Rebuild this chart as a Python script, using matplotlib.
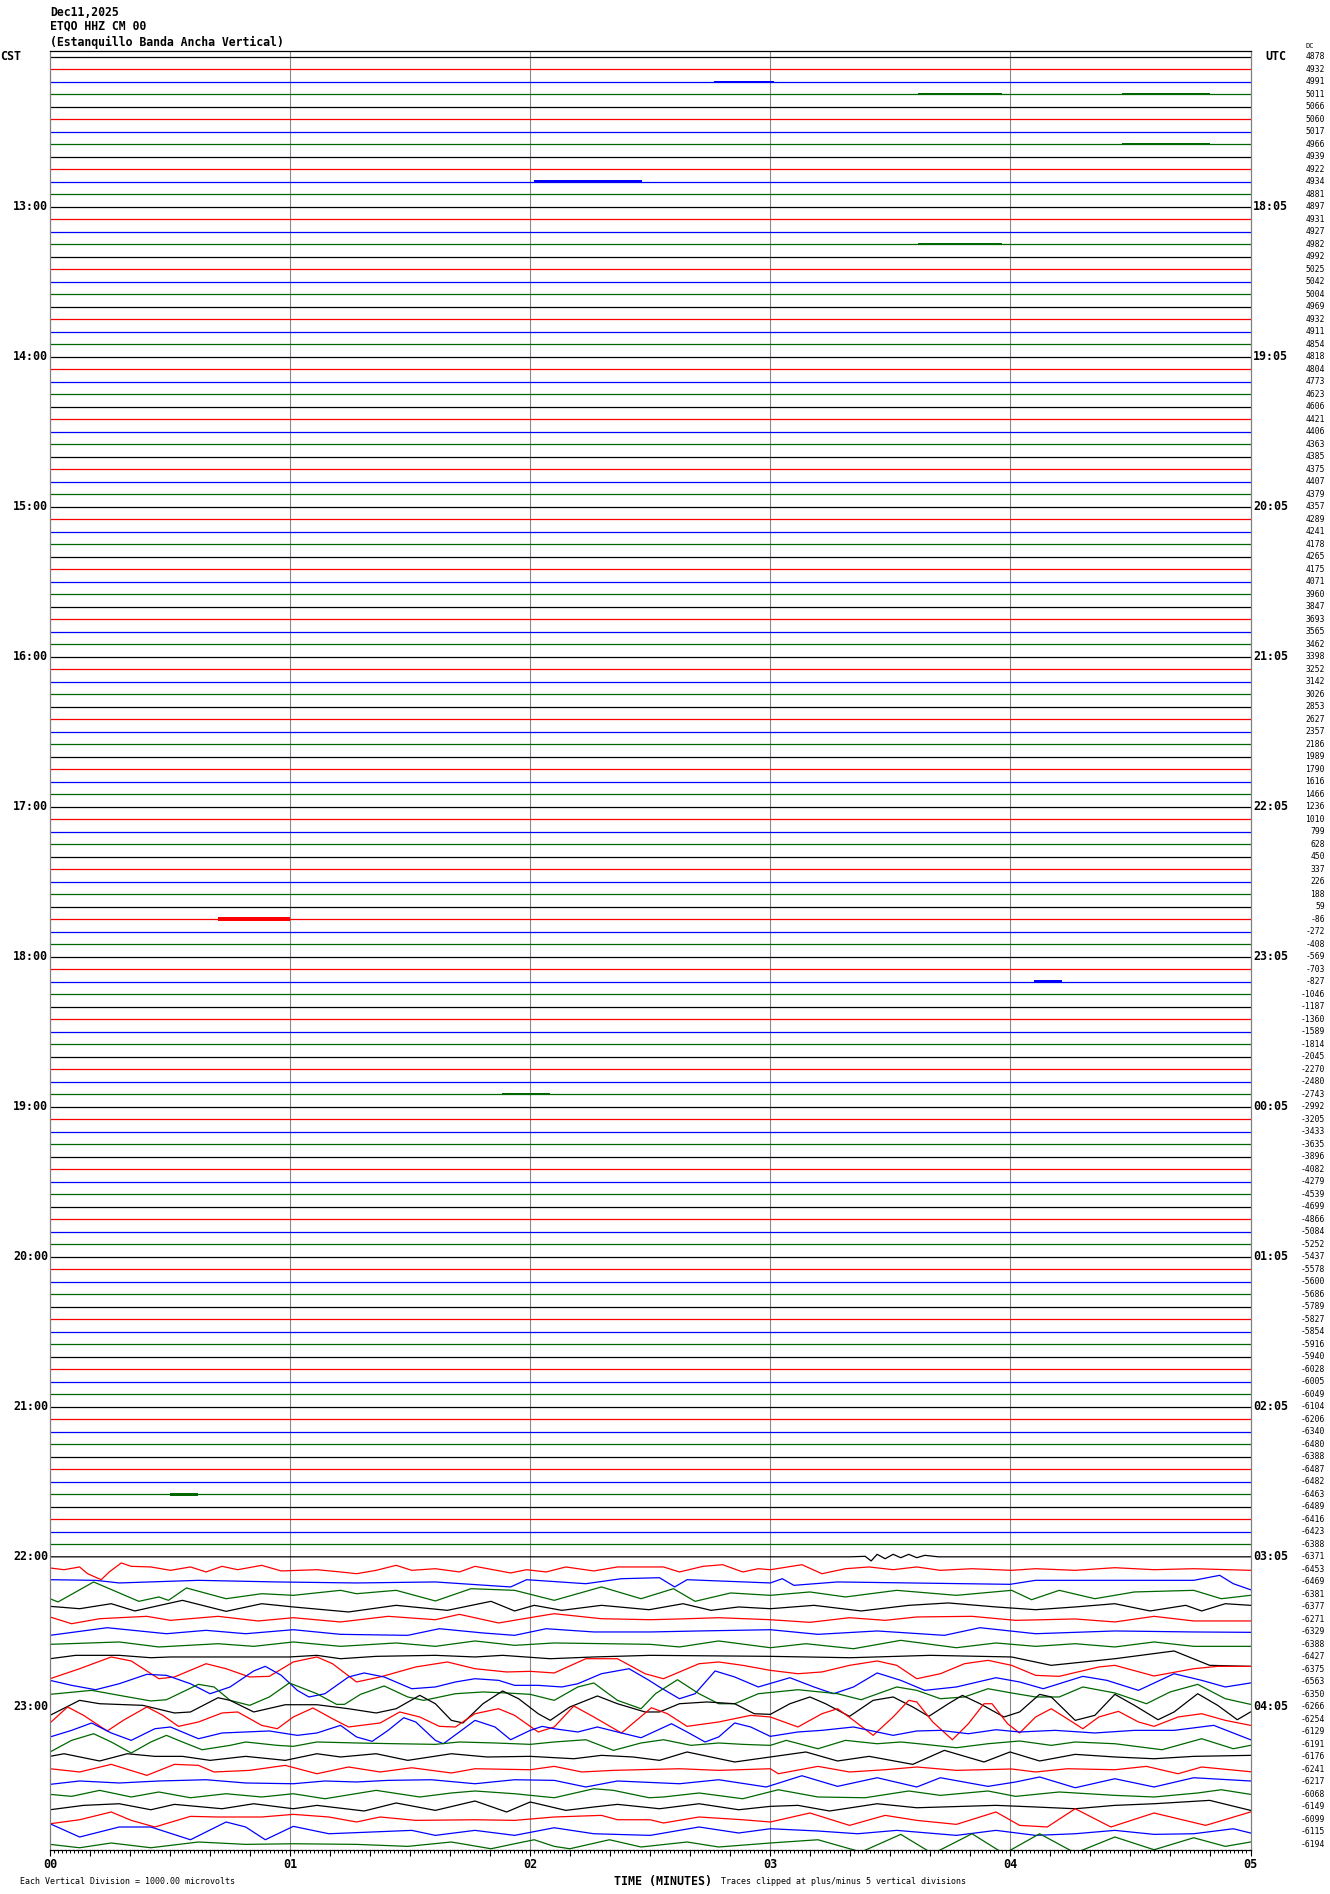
import numpy as np
import matplotlib.pyplot as plt
from matplotlib.ticker import MultipleLocator, FixedLocator
from matplotlib.transforms import blended_transform_factory

# valor medio (DC) de cada linea de 5 minutos, de 12:00 a 23:55 CST
dc_values = [4878, 4932, 4991, 5011, 5066, 5060, 5017, 4966, 4939, 4922, 4934, 4881,
             4897, 4931, 4927, 4982, 4992, 5025, 5042, 5004, 4969, 4932, 4911, 4854,
             4818, 4804, 4773, 4623, 4606, 4421, 4406, 4363, 4385, 4375, 4407, 4379,
             4357, 4289, 4241, 4178, 4265, 4175, 4071, 3960, 3847, 3693, 3565, 3462,
             3398, 3252, 3142, 3026, 2853, 2627, 2357, 2186, 1989, 1790, 1616, 1466,
             1236, 1010, 799, 628, 450, 337, 226, 188, 59, -86, -272, -408,
             -569, -703, -827, -1046, -1187, -1360, -1589, -1814, -2045, -2270, -2480, -2743,
             -2992, -3205, -3433, -3635, -3896, -4082, -4279, -4539, -4699, -4866, -5084, -5252,
             -5437, -5578, -5600, -5686, -5789, -5827, -5854, -5916, -5940, -6028, -6005, -6049,
             -6104, -6206, -6340, -6480, -6388, -6487, -6482, -6463, -6489, -6416, -6423, -6388,
             -6371, -6453, -6469, -6381, -6377, -6271, -6329, -6388, -6427, -6375, -6563, -6350,
             -6266, -6254, -6129, -6191, -6176, -6241, -6217, -6068, -6149, -6099, -6115, -6194]

cst_labels = ['13:00', '14:00', '15:00', '16:00', '17:00', '18:00',
              '19:00', '20:00', '21:00', '22:00', '23:00']
utc_labels = ['18:05', '19:05', '20:05', '21:05', '22:05', '23:05',
              '00:05', '01:05', '02:05', '03:05', '04:05']

# trazas con actividad: (segundos, divisiones)
w120 = [(0, 0), (200, 0), (203.7, 0.04), (205.2, -0.33), (206.7, 0.2), (208.7, -0.15), (210.7, 0.2),
        (212.6, -0.07), (214.6, 0.2), (216.6, -0.07), (218.6, 0.12), (222, 0), (300, 0)]
w121 = [(0, 0.11), (3.5, -0.03), (7.4, 0.19), (9.4, -0.35), (12.8, -0.83), (14.8, -0.21), (17.8, 0.51),
        (20.3, 0.24), (25.2, 0.19), (30.1, -0.08), (35.1, 0.19), (39, -0.21), (43, 0.24), (46.9, -0.03),
        (52.9, 0.32), (57.8, -0.13), (66.7, -0.03), (72.6, -0.21), (76.6, -0.35), (81.5, -0.08),
        (86.5, 0.32), (90.4, -0.08), (96.3, 0.05), (102.3, -0.21), (106.2, 0.24), (115.1, -0.29),
        (119.1, -0.03), (124, -0.21), (128.9, 0.19), (135.9, -0.13), (141.8, 0.19), (153.3, 0.19),
        (157.3, -0.21), (163.2, 0.24), (168.1, 0.37), (173.1, -0.21), (177, 0.05), (180, -0.03),
        (187.9, 0.37), (192.9, -0.35), (198.8, 0.05), (204.7, 0.19), (210.7, -0.03), (216.6, 0.19),
        (222.5, -0.08), (230.4, 0.05), (236.4, -0.03), (240.3, -0.08), (246.3, 0.05), (256.2, -0.08),
        (266.1, 0.13), (275.9, -0.03), (285.8, 0.05), (300, -0.08)]
w122 = [(0, 0.17), (11.4, 0.12), (17.3, -0.09), (37.1, 0.12), (56.8, -0.01), (76.6, -0.09), (96.3, -0.01),
        (115.1, -0.41), (119.1, 0.17), (133.9, -0.15), (142.8, 0.25), (152.3, 0.33), (156.1, -0.41),
        (159.2, 0.17), (180, -0.09), (183, 0.25), (185.9, -0.28), (196.8, -0.01), (239.9, -0.2),
        (246.3, 0.12), (285.8, 0.12), (292.3, 0.52), (295.7, -0.15), (300, -0.63)]
w123 = [(0, -0.35), (2, -0.61), (10.9, 0.99), (22.2, -0.56), (27.2, -0.21), (29.6, -0.48), (34.1, 0.51),
        (44, -0.35), (52.9, 0.05), (60.8, -0.08), (72.6, 0.32), (76.6, 0.05), (86.5, 0.32), (96.3, -0.53),
        (105.2, 0.45), (116.1, 0.32), (126, -0.48), (137.8, 0.59), (147.7, -0.35), (155.8, 0.45),
        (161.2, -0.56), (170.1, 0.11), (180, -0.08), (189.9, 0.19), (198.8, -0.21), (211.6, 0.32),
        (226.5, -0.08), (240.3, 0.32), (245.3, -0.43), (252.2, 0.32), (261.1, -0.35), (271, 0.19),
        (285.8, 0.32), (292.7, -0.35), (300, -0.08)]
w124 = [(0, 0.04), (7.4, -0.15), (15.3, 0.25), (21.2, -0.33), (33.1, 0.52), (44, -0.36), (52.9, 0.25),
        (60.8, -0.01), (74.6, -0.41), (86.5, 0.12), (99.3, -0.28), (110.2, 0.44), (116.1, -0.33),
        (121, 0.12), (127.9, -0.28), (137.8, 0.12), (149.7, -0.23), (158.2, 0.25), (165.2, -0.28),
        (172.1, -0.01), (180, -0.15), (190.9, 0.12), (202.7, -0.33), (214.6, 0.12), (224.5, 0.31),
        (236.4, -0.01), (246.3, -0.23), (256.2, -0.01), (266.1, 0.25), (274.9, -0.33), (283.8, 0.12),
        (287.8, -0.33), (293.7, 0.25), (300, 0.12)]
w125 = [(0, 0.19), (5.4, -0.35), (12.4, 0.05), (24.2, 0.24), (30.1, -0.08), (42, 0.24), (52, -0.13),
        (60.8, 0.13), (72.6, -0.21), (84.5, 0.24), (96.3, -0.03), (102.3, 0.4), (112.1, -0.29), (121, 0.19),
        (126, 0.45), (137.8, 0.05), (150, -0.03), (157.3, 0.03), (167.1, 0.13), (180, -0.03),
        (189.9, -0.24), (199.8, 0.13), (208.7, -0.08), (216.6, 0.19), (230.4, 0.24), (241.3, -0.08),
        (256.2, 0.03), (266.1, -0.21), (275.9, 0.24), (285.8, -0.13), (300, -0.13)]
w126 = [(0, -0.28), (14.3, 0.33), (29.1, -0.15), (39, 0.12), (48.9, -0.15), (60.8, 0.17), (72.6, -0.2),
        (89.4, -0.28), (97.3, 0.25), (108.2, -0.09), (116.1, -0.28), (124, 0.25), (135.9, -0.01),
        (150, -0.01), (162.2, 0.07), (180, 0.17), (191.9, -0.2), (206.7, 0.07), (223.5, -0.28),
        (232.4, 0.33), (246.3, -0.15), (266.1, 0.07), (285.8, -0.01), (300, -0.04)]
w127 = [(0, 0), (17.3, 0.19), (27.2, -0.21), (42, 0.05), (50.9, -0.16), (60.8, 0.19), (72.6, -0.16),
        (86.5, 0.11), (96.3, -0.16), (106.2, 0.27), (116.1, -0.08), (126, 0.11), (150, 0), (157.3, -0.21),
        (167.1, 0.27), (180, -0.27), (188.9, 0.05), (200.8, -0.35), (212.6, 0.32), (226.5, -0.27),
        (236.4, 0.11), (246.3, -0.16), (256.2, 0.05), (266.1, -0.21), (275.9, 0.19), (285.8, -0.16),
        (300, -0.16)]
w128 = [(0, -0.15), (6.4, 0.12), (17.3, 0.12), (25.2, -0.07), (30.1, -0.01), (59.8, -0.01), (66.7, 0.12),
        (72.6, -0.15), (81.5, 0.04), (96.3, 0.12), (106.2, -0.01), (113.1, 0.12), (125, -0.15),
        (135.9, -0.01), (150, 0.12), (180, 0.04), (200, -0.07), (220, 0.12), (240.3, -0.01),
        (250.2, -0.68), (266.1, -0.15), (280.9, 0.47), (289.8, -0.68), (300, -0.76)]
w129 = [(0, -0.75), (7.4, 0.05), (15.3, 0.99), (20.3, 0.67), (27.2, -0.75), (31.1, -0.61), (39, 0.45),
        (44, 0.05), (49.9, -0.61), (54.8, -0.56), (60.8, 0.59), (66.7, 0.99), (70.6, 0.45), (76.6, -1.01),
        (82.5, -0.61), (91.4, 0.19), (99.3, 0.59), (106.2, 0.05), (114.1, -0.21), (120, -0.16),
        (126, -0.29), (133.9, 0.85), (141.8, 0.85), (148.7, -0.35), (153.3, -0.75), (157.3, -0.21),
        (162.2, 0.45), (167.1, 0.59), (173.1, 0.32), (180, -0.08), (186.9, -0.35), (192.9, -0.21),
        (199.8, 0.32), (206.7, 0.67), (211.6, 0.32), (216.6, -0.75), (222.5, -0.35), (228.5, 0.45),
        (234.4, 0.72), (240.3, 0.32), (246.3, -0.48), (252.2, -0.56), (262.1, 0.19), (266.1, 0.32),
        (275.9, -0.53), (285.8, 0.05), (291.8, 0.24), (300, 0.24)]
w130 = [(0, 0.12), (5.4, -0.28), (11.4, -0.63), (17.3, -0.15), (24.2, 0.6), (29.1, 0.52), (35.1, -0.15),
        (40, -0.95), (45, -0.41), (50.9, 0.87), (53.8, 1.24), (57.8, 0.52), (61.8, -0.68), (64.7, -1.21),
        (68.7, -0.95), (74.6, 0.39), (78.5, 0.71), (83.5, 0.39), (90.4, -0.55), (96.3, -0.41),
        (101.3, -0.01), (106.2, 0.25), (112.1, 0.12), (116.1, -0.28), (122, -0.28), (127.9, -0.41),
        (131.9, -0.15), (137.8, 0.65), (144.7, 1.05), (149.7, 0.12), (152.3, -0.41), (157.3, -1.35),
        (161.2, -0.95), (166.2, 0.87), (171.1, 0.39), (177, -0.41), (184.9, 0.33), (190.9, -0.41),
        (195.8, -0.95), (200.8, -0.41), (206.7, 0.71), (212.6, 0.12), (218.6, -0.68), (226.5, -0.41),
        (236.4, 0.33), (242.3, -0.01), (248.2, -0.55), (258.1, 0.44), (264.1, 0.12), (272, -0.68),
        (280.9, 0.65), (287.8, 0.12), (293.7, -0.41), (300, -0.09)]
w131 = [(0, 0), (10.4, 0.32), (17.3, -0.08), (25.2, -0.53), (29.1, -0.43), (37.1, 0.8), (41, 0.59),
        (45, -0.48), (49.9, -0.88), (54.8, -0.21), (59.8, 0.91), (66.7, 0.05), (71.6, -0.8), (73.6, -0.8),
        (77.6, 0), (83.5, 0.67), (89.4, -0.21), (93.4, -0.48), (101.3, 0.05), (108.2, 0.19), (114.1, 0.11),
        (120, 0), (126, -0.48), (131.9, 0.59), (135.9, 0.91), (141.8, -0.48), (147.7, -1.15),
        (151.3, 0.05), (156.8, 1.17), (162.2, 0.05), (167.1, -0.75), (171.1, -0.75), (177, 0.05),
        (186.9, 0.37), (196.8, 0.05), (202.7, -0.43), (211.6, 0.59), (216.6, 0.32), (222.5, -0.35),
        (228.5, -0.21), (234.4, 0.45), (240.3, 0.11), (246.3, -0.21), (252.2, -0.21), (258.1, 0.59),
        (266.1, 0.11), (274, -0.75), (279.9, 0.19), (286.8, 0.8), (293.7, -0.35), (300, -0.8)]
w132 = [(0, -0.68), (7.4, 0.52), (12.4, 0.25), (23.2, 0.12), (31.1, -0.49), (35.1, -0.41), (42, 0.73),
        (45, 0.52), (50.9, -0.41), (58.8, 0.17), (66.7, 0.17), (74.6, -0.15), (81.5, -0.49), (86.5, -0.15),
        (92.4, 0.92), (96.3, 0.25), (100.3, -1.08), (103.2, -1.29), (108.2, 0.25), (113.1, 1.27),
        (117.1, 0.65), (122, -0.55), (125, -1.08), (129.9, -0.01), (136.8, 0.87), (141.8, 0.25),
        (148.7, -0.41), (152.3, -0.41), (157.3, 0.25), (164.2, 0.39), (171.1, 0.25), (176, -0.55),
        (180, -0.6), (184.9, 0.25), (189.9, 0.79), (193.8, 0.25), (199.8, -0.76), (205.7, 0.52),
        (210.7, 0.79), (215.6, -0.01), (219.6, -0.76), (224.5, 0.25), (228, 0.92), (232.4, 0.25),
        (238.4, -0.81), (242.3, -0.41), (247.3, 1.0), (250.2, 0.79), (256.2, -1.08), (261.1, -0.68),
        (266.1, 1.0), (271, 0.12), (276.9, -1.03), (280.9, -0.41), (286.8, 1.05), (291.8, 0.12),
        (296.7, -1.03), (300, -0.41)]
w133 = [(0, -0.29), (4.4, 0.99), (8.4, 0.32), (14.3, -0.93), (18.3, -0.08), (24.2, 0.99), (28.2, 0.32),
        (32.1, -0.56), (37.1, -0.21), (43, 0.51), (46.9, 0.59), (52.9, -0.48), (56.8, -0.75), (60.8, 0.19),
        (65.7, 0.91), (70.6, 0.05), (74.6, -0.61), (82.5, -0.29), (87.4, 0.59), (92.4, 0.19), (97.3, -0.56),
        (101.3, -0.61), (106.2, 0.45), (112.1, 0.85), (116.1, 0.32), (122, -1.01), (126, -0.61),
        (130.9, 1.07), (135.9, 0.19), (142.8, -1.09), (150.3, 0.93), (154.3, 0.45), (159.2, -0.56),
        (167.1, -0.21), (175.1, 0.32), (180, 0.19), (186.9, -0.61), (192.9, 0.45), (196.8, 0.85),
        (200.8, -0.08), (205.7, -1.28), (210.7, 0.19), (214.6, 1.52), (216.6, 1.39), (220.6, -0.21),
        (225.5, -1.63), (229.5, -0.35), (233.4, 1.25), (235.4, 1.25), (239.3, -0.35), (242.3, -1.09),
        (246.3, 0.19), (250.2, 0.85), (254.2, 0.05), (258.1, -0.75), (262.1, 0.19), (267, 0.64),
        (272, -0.21), (275.9, -0.56), (281.9, 0.19), (287.8, 0.45), (293.7, -0.08), (300, -0.48)]
w134 = [(0, -0.41), (5.4, 0.12), (10.4, 0.71), (15.3, -0.09), (20.3, -0.68), (26.2, 0.25), (30.1, 0.39),
        (37.1, -0.55), (43, -0.09), (48.9, -0.01), (54.8, 0.07), (61.8, -0.28), (66.7, -0.09), (72.6, 0.52),
        (76.6, -0.41), (80.5, -0.76), (84.5, 0.12), (88.4, 1.13), (91.4, 0.79), (96.3, -0.68), (98.3, -0.95),
        (102.3, -0.01), (106.2, 0.92), (111.2, 0.39), (115.1, -0.63), (120, 0.12), (123, 0.44), (126, 0.25),
        (131.9, -0.01), (136.8, 0.39), (141.8, -0.01), (147.7, -0.47), (155.3, 0.65), (159.2, -0.01),
        (163.7, -0.81), (167.1, -0.41), (171.1, 0.71), (175.1, 0.39), (180, -0.36), (186.9, -0.01),
        (192.9, 0.12), (200.8, 0.39), (206.7, -0.01), (210.7, -0.28), (216.6, 0.07), (222.5, 0.12),
        (229.5, -0.15), (236.4, 0.17), (242.3, -0.01), (251.2, 0.12), (261.1, -0.09), (271, 0.12),
        (280.9, 0.12), (290.8, 0.52), (300, -0.63)]
w135 = [(0, -0.61), (5.4, 0.32), (10.9, 0.85), (15.3, 0.19), (20.3, -0.69), (25.2, 0.19), (29.1, 0.72),
        (33.1, 0.19), (38, -0.43), (45, -0.08), (48.9, 0.19), (56.8, -0.08), (60.8, -0.16), (66.7, 0.19),
        (76.6, 0.11), (86.5, 0.05), (96.3, 0), (102.3, 0.19), (111.2, 0.11), (120, 0), (126, 0.19),
        (133.9, 0.37), (140.8, -0.48), (147.7, 0.11), (153.3, 0.37), (160.2, -0.08), (167.1, 0.11),
        (173.1, 0), (180, -0.08), (184, 0.32), (191.9, -0.35), (198.8, 0.32), (206.7, 0.05), (212.6, 0.19),
        (218.6, 0), (226.5, -0.27), (234.4, 0.05), (242.3, 0.27), (250.2, -0.08), (256.2, 0.19),
        (266.1, 0.05), (277.9, -0.43), (287.8, 0.45), (295.7, -0.35), (300, -0.08)]
w136 = [(0, 0.04), (3.5, 0.25), (12.4, -0.33), (19.3, 0.25), (26.2, 0.04), (33.1, 0.04), (40, -0.28),
        (48.9, 0.04), (58.8, -0.28), (66.7, 0.25), (72.6, -0.01), (81.5, 0.25), (89.4, -0.28), (100.3, 0.25),
        (109.2, -0.01), (120, 0.04), (130.9, -0.15), (137.8, 0.12), (145.7, -0.01), (152.3, -0.28),
        (159.2, 0.39), (171.1, -0.41), (180, -0.01), (188.9, 0.39), (196.8, -0.33), (204.7, 0.04),
        (215.6, -0.6), (223.5, 0.52), (233.4, -0.41), (239.9, 0.39), (247.3, -0.33), (256.2, 0.2),
        (266.1, -0.01), (275.9, -0.15), (285.8, 0.04), (300, 0.12)]
w137 = [(0, 0.05), (7.4, -0.21), (15.3, 0.4), (24.2, -0.48), (31.1, 0.4), (37.1, 0.32), (41, -0.21),
        (49.9, -0.08), (58.8, 0.32), (66.7, -0.35), (74.6, 0.19), (82.5, -0.21), (90.4, 0.13),
        (100.3, -0.29), (106.2, 0.05), (120, -0.03), (126, 0.24), (132.9, -0.21), (140.8, -0.08),
        (157.3, 0.05), (167.1, -0.08), (180, 0.05), (182, -0.35), (191.9, 0.24), (199.8, -0.21),
        (208.7, -0.03), (216.6, 0.19), (226.5, -0.08), (240.3, 0.03), (246.3, -0.21), (254.2, 0.05),
        (266.1, -0.03), (274, 0.24), (281.9, -0.35), (287.8, 0.19), (300, -0.19)]
w138 = [(0, -0.2), (7.4, 0.07), (17.3, -0.09), (27.2, 0.07), (39, 0.17), (48.9, -0.09), (60.8, -0.15),
        (68.7, 0.07), (76.6, -0.01), (84.5, 0.12), (95.3, 0.17), (106.2, -0.15), (116.1, 0.17), (126, 0.12),
        (133.9, -0.41), (141.8, 0.07), (157.3, -0.15), (167.1, 0.17), (179, -0.41), (187.9, 0.49),
        (196.8, -0.36), (206.7, 0.33), (216.6, -0.41), (222.5, 0.33), (234.4, -0.36), (241.3, -0.01),
        (247.3, 0.39), (256.2, -0.47), (266.1, 0.25), (275.9, -0.41), (285.8, 0.33), (300, 0.07)]
w139 = [(0, 0), (5.4, -0.16), (12.4, 0.32), (20.3, -0.21), (27.2, 0.19), (35.1, -0.27), (44, 0.05),
        (52.9, -0.21), (60.8, 0.05), (68.7, -0.35), (81.5, 0.32), (92.4, -0.21), (100.3, 0.11),
        (106.2, 0.27), (116.1, 0.05), (126, -0.27), (135.9, 0.45), (140.8, 0.32), (149.7, -0.27),
        (153.3, -0.21), (162.2, 0.11), (173.1, -0.35), (182, 0.37), (191.9, -0.21), (203.7, -0.27),
        (214.6, 0.27), (222.5, -0.08), (234.4, 0.27), (241.3, -0.16), (252.2, 0.19), (266.1, -0.08),
        (275.9, -0.21), (286.8, 0.11), (292.7, 0.37), (300, 0)]
w140 = [(0, -0.23), (8.4, 0.12), (17.3, 0.25), (25.2, -0.23), (31.1, 0.2), (43, -0.15), (50.9, 0.25),
        (60.8, -0.15), (66.7, 0.12), (78.5, -0.33), (86.5, 0.31), (96.3, -0.28), (106.2, 0.47),
        (114.1, -0.41), (120, 0.39), (128.9, -0.28), (135.9, -0.01), (141.8, 0.2), (150, -0.07),
        (152.3, -0.15), (162.2, 0.25), (172.1, -0.23), (180, 0.04), (186.9, 0.12), (194.8, -0.33),
        (206.7, 0.25), (216.6, -0.07), (236.4, 0.12), (246.3, -0.01), (256.2, -0.15), (266.1, 0.12),
        (275.9, 0.25), (289.8, 0.52), (300, -0.28)]
w141 = [(0, -0.35), (7.4, -0.03), (15.3, 0.59), (20.3, -0.08), (26.2, -0.61), (35.1, 0.24), (42, 0.19),
        (52.9, 0.19), (60.8, 0.4), (69.7, 0.19), (76.6, -0.21), (82.5, 0.19), (91.4, -0.08), (106.2, -0.03),
        (116.1, -0.08), (126, 0.19), (137.8, 0.32), (141.8, -0.03), (150, -0.03), (153.3, -0.29),
        (162.2, 0.19), (173.1, -0.03), (180, -0.21), (189.9, 0.51), (199.8, -0.48), (208.7, 0.32),
        (216.6, -0.08), (226.5, -0.4), (236.4, 0.59), (242.3, -0.48), (249.2, -0.61), (256.2, 0.85),
        (265.1, -0.61), (275.9, 0.51), (288.8, -0.48), (300, 0.59)]
w142 = [(0, 0.65), (7.4, -0.41), (17.3, 0.39), (25.2, 0.39), (35.1, -0.63), (44, 0.79), (48.9, 0.39),
        (53.8, -0.63), (60.8, 0.44), (69.7, -0.15), (80.5, -0.01), (90.4, 0.12), (96.3, -0.28),
        (106.2, 0.12), (116.1, -0.28), (126, 0.33), (135.9, -0.15), (150, -0.28), (162.2, 0.39),
        (172.1, -0.09), (180, 0.25), (191.9, 0.07), (201.8, -0.15), (211.6, 0.12), (226.5, -0.28),
        (236.4, 0.12), (246.3, -0.28), (256.2, -0.15), (266.1, 0.12), (275.9, -0.2), (285.8, -0.15),
        (295.7, 0.25), (300, -0.09)]
w143 = [(0, 0), (7.4, -0.27), (15.3, 0.11), (25.2, -0.27), (37.1, 0.19), (48.9, 0), (60.8, 0.05),
        (76.6, 0), (89.4, -0.16), (100.3, 0.19), (110.2, -0.35), (116.1, 0.05), (121, 0.37), (126, -0.16),
        (129.9, -0.35), (139.8, 0.37), (147.7, -0.21), (159.2, 0.19), (167.1, -0.21), (180, 0.11),
        (191.9, 0.37), (202.7, -0.61), (212.6, 0.8), (220.6, -0.75), (230.4, 0.85), (238.4, -0.75),
        (247.3, 0.85), (256.2, -0.69), (266.1, 0.59), (275.9, -0.43), (285.8, 0.53), (293.7, -0.16),
        (300, 0.19)]

waves = {120: w120, 121: w121, 122: w122, 123: w123, 124: w124, 125: w125, 126: w126,
         127: w127, 128: w128, 129: w129, 130: w130, 131: w131, 132: w132, 133: w133,
         134: w134, 135: w135, 136: w136, 137: w137, 138: w138, 139: w139, 140: w140,
         141: w141, 142: w142, 143: w143}

# rafagas de ruido en lineas tranquilas
burst_line = [2, 3, 3, 7, 10, 15, 69, 74, 83, 115]
burst_t0 = [166, 217, 268, 268, 121, 217, 42, 246, 113, 30]
burst_t1 = [181, 238, 290, 290, 148, 238, 60, 253, 125, 37]
burst_amp = [0.06, 0.1, 0.06, 0.1, 0.1, 0.08, 0.16, 0.14, 0.1, 0.12]

colores = ['#000000', '#ff0000', '#0000ff', '#006600']
mono = 'DejaVu Sans Mono'
W, H = 1330, 1894
n = len(dc_values)

fig = plt.figure(figsize=(W / 100, H / 100), dpi=100)
ax = fig.add_axes([50 / W, 1 - 1850 / H, 1200.5 / W, (1850 - 50.7) / H])

for m in range(1, 5):
    ax.axvline(m, color='#8c8c8c', lw=0.8, zorder=0)

for i in range(n):
    c = colores[i % 4]
    if i in waves:
        t = np.array([p[0] for p in waves[i]])
        v = np.clip(np.array([p[1] for p in waves[i]]), -5, 5)
    else:
        t = np.array([0, 300])
        v = np.array([0, 0])
    ax.plot(t / 60, i - v, color=c, lw=0.9, zorder=2)

for k in range(len(burst_line)):
    i = burst_line[k]
    xs = np.array([burst_t0[k], burst_t1[k]]) / 60
    ax.fill_between(xs, i - burst_amp[k], i + burst_amp[k], color=colores[i % 4], lw=0, zorder=2)

ax.set_xlim(0, 5)
ax.set_ylim(n - 1 + 0.45, -0.47)
ax.set_yticks([])

ax.xaxis.set_major_locator(FixedLocator(np.arange(0, 31) / 6))
ax.xaxis.set_minor_locator(MultipleLocator(1 / 60))
ax.set_xticklabels(['%02d' % (k // 6) if k % 6 == 0 else '' for k in range(31)],
                   fontfamily=mono, fontweight='bold', fontsize=8.5)
ax.tick_params(axis='x', which='major', direction='out', length=4, width=0.8, pad=2)
ax.tick_params(axis='x', which='minor', direction='out', length=2.3, width=0.7)

for s in ['left', 'right']:
    ax.spines[s].set_color('#808080')
for s in ['top', 'bottom']:
    ax.spines[s].set_color('black')
for s in ax.spines.values():
    s.set_linewidth(0.9)

# etiquetas
tr = blended_transform_factory(fig.transFigure, ax.transData)
for i in range(n):
    ax.text(1325 / W, i, str(dc_values[i]), transform=tr, ha='right', va='center',
            fontsize=5.8, family=mono, clip_on=False)
for k in range(len(cst_labels)):
    i = 12 * (k + 1)
    ax.text(48 / W, i, cst_labels[k], transform=tr, ha='right', va='center',
            fontsize=8.4, family=mono, fontweight='bold', clip_on=False)
    ax.text(1253 / W, i, utc_labels[k], transform=tr, ha='left', va='center',
            fontsize=8.4, family=mono, fontweight='bold', clip_on=False)

ax.text(0, 0, 'CST', transform=tr, ha='left', va='center', fontsize=8.4,
        family=mono, fontweight='bold', clip_on=False)
ax.text(1265 / W, 0, 'UTC', transform=tr, ha='left', va='center', fontsize=8.4,
        family=mono, fontweight='bold', clip_on=False)
ax.text(1305 / W, -0.85, 'DC', transform=tr, ha='left', va='center', fontsize=5,
        family=mono, clip_on=False)

cabecera = ['Dec11,2025', 'ETQO HHZ CM 00', '(Estanquillo Banda Ancha Vertical)']
for k, y in enumerate([12, 26, 42]):
    fig.text(50 / W, 1 - y / H, cabecera[k], ha='left', va='center', fontsize=8.3,
             family=mono, fontweight='bold')

fig.text(20 / W, 1 - 1881 / H, 'Each Vertical Division = 1000.00 microvolts', ha='left',
         va='center', fontsize=6, family=mono)
fig.text(614 / W, 1 - 1881 / H, 'TIME (MINUTES)', ha='left', va='center', fontsize=8.4,
         family=mono, fontweight='bold')
fig.text(721 / W, 1 - 1881 / H, 'Traces clipped at plus/minus 5 vertical divisions', ha='left',
         va='center', fontsize=6, family=mono)

fig.savefig('out.png', dpi=100, facecolor='white')
